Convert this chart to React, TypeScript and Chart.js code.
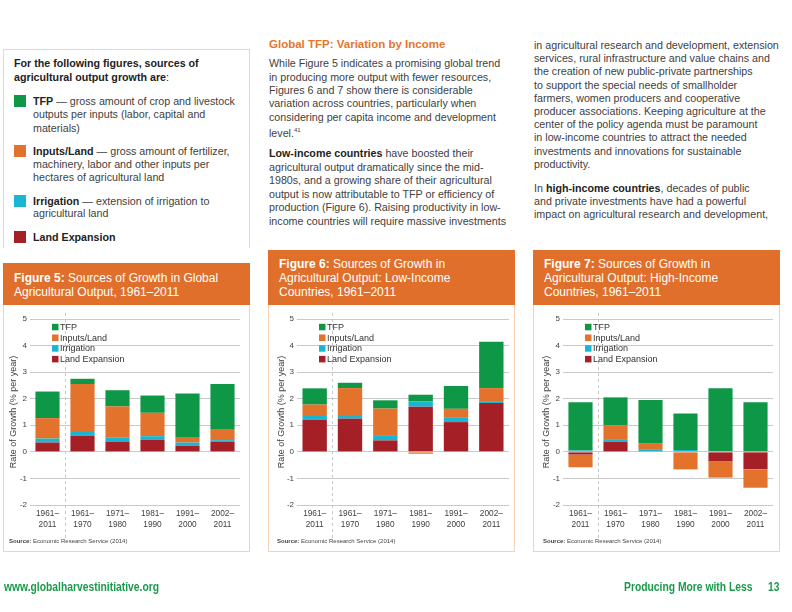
import React, { useEffect, useRef } from "react";
import { Chart, registerables } from "chart.js";
Chart.register(...registerables);

// ---------- data ----------
const categories: string[][] = [
  ["1961–", "2011"],
  ["1961–", "1970"],
  ["1971–", "1980"],
  ["1981–", "1990"],
  ["1991–", "2000"],
  ["2002–", "2011"],
];
const seriesLabels = ["Land Expansion", "Irrigation", "Inputs/Land", "TFP"];
const seriesColors = ["#a51f26", "#19b5d3", "#e2722c", "#0f9748"];
const yTicks = { min: -2, max: 5, step: 1 };

// Figure 5: global
const land5 = [0.35, 0.6, 0.37, 0.45, 0.23, 0.37];
const irr5 = [0.15, 0.15, 0.18, 0.14, 0.12, 0.07];
const inputs5 = [0.77, 1.8, 1.16, 0.88, 0.18, 0.42];
const tfp5 = [1.0, 0.2, 0.61, 0.65, 1.67, 1.69];

// Figure 6: low-income
const land6 = [1.2, 1.25, 0.43, 1.7, 1.12, 1.84];
const irr6 = [0.15, 0.1, 0.17, 0.2, 0.16, 0.04];
const inputs6 = [0.43, 1.05, 1.03, -0.07, 0.34, 0.52];
const tfp6 = [0.61, 0.2, 0.31, 0.25, 0.86, 1.74];

// Figure 7: high-income
const land7 = [-0.1, 0.38, 0.0, -0.02, -0.35, -0.65];
const irr7 = [0.05, 0.1, 0.1, 0.07, 0.03, -0.02];
const inputs7 = [-0.48, 0.52, 0.23, -0.64, -0.62, -0.68];
const tfp7 = [1.82, 1.05, 1.62, 1.37, 2.36, 1.87];

const FONT = "'Liberation Sans', Arial, Helvetica, sans-serif";
const TEXT = "#414141";
const ORANGE = "#e06f2b";
const PANEL_BORDER = "#f7d3b3";
const GREEN = "#1a9a4a";

// ---------- chart plugins ----------
const boxLegend = {
  id: "boxLegend",
  afterDraw(chart: any) {
    const { ctx, chartArea } = chart;
    const ds = chart.data.datasets;
    ctx.save();
    ctx.font = `9px ${FONT}`;
    ctx.textBaseline = "middle";
    ctx.textAlign = "left";
    const x0 = chartArea.left + 22;
    const y0 = chartArea.top + 8;
    const step = 10.7;
    for (let k = 0; k < ds.length; k++) {
      const d = ds[ds.length - 1 - k];
      const y = y0 + k * step;
      ctx.fillStyle = d.backgroundColor;
      ctx.fillRect(x0, y - 3.2, 6.5, 6.5);
      ctx.fillStyle = "#333";
      ctx.fillText(d.label, x0 + 8, y + 0.5);
    }
    ctx.restore();
  },
};

const dashDivider = {
  id: "dashDivider",
  beforeDatasetsDraw(chart: any) {
    const { ctx, chartArea, scales } = chart;
    const x = Math.round(scales.x.getPixelForValue(0.5)) + 0.5;
    ctx.save();
    ctx.strokeStyle = "#c8c8c8";
    ctx.lineWidth = 1;
    ctx.setLineDash([3, 3]);
    ctx.beginPath();
    ctx.moveTo(x, chartArea.top - 6);
    ctx.lineTo(x, chartArea.bottom + 34);
    ctx.stroke();
    ctx.restore();
  },
};

type ChartProps = {
  series: number[][];
  width: number;
  height: number;
  yWidth: number;
  rightPad: number;
  titlePad: number;
};

function GrowthChart({ series, width, height, yWidth, rightPad, titlePad }: ChartProps) {
  const ref = useRef<HTMLCanvasElement | null>(null);
  useEffect(() => {
    if (!ref.current) return;
    const chart = new Chart(ref.current, {
      type: "bar",
      data: {
        labels: categories,
        datasets: seriesLabels.map((label, i) => ({
          label,
          data: series[i],
          backgroundColor: seriesColors[i],
          borderWidth: 0,
          categoryPercentage: 1,
          barPercentage: 0.69,
        })),
      },
      options: {
        animation: false,
        responsive: false,
        maintainAspectRatio: false,
        layout: { padding: { top: 14, bottom: 16, left: 0, right: rightPad } },
        plugins: { legend: { display: false }, tooltip: { enabled: false } },
        scales: {
          x: {
            stacked: true,
            grid: { display: false, drawTicks: false },
            border: { display: false },
            ticks: {
              font: { family: FONT, size: 8.3, lineHeight: 1.35 },
              color: TEXT,
              padding: 3,
              maxRotation: 0,
              autoSkip: false,
            },
            afterFit: (s: any) => {
              s.height = 30;
            },
          },
          y: {
            stacked: true,
            min: yTicks.min,
            max: yTicks.max,
            ticks: {
              stepSize: yTicks.step,
              font: { family: FONT, size: 8 },
              color: TEXT,
              padding: 3,
            },
            grid: { color: "#c9c9c9", drawTicks: false, lineWidth: 1 },
            border: { display: false },
            title: {
              display: true,
              text: "Rate of Growth (% per year)",
              font: { family: FONT, size: 9 },
              color: TEXT,
              padding: { top: titlePad, bottom: 0 },
            },
            afterFit: (s: any) => {
              s.width = yWidth;
            },
          },
        },
      } as any,
      plugins: [boxLegend, dashDivider],
    });
    return () => chart.destroy();
  }, []);
  return (
    <canvas
      ref={ref}
      width={width}
      height={height}
      style={{ position: "absolute", left: 0, top: 0, width, height }}
    />
  );
}

// ---------- text helpers ----------
function L({ x, y, children, style }: { x: number; y: number; children: any; style?: any }) {
  return (
    <div
      style={{
        position: "absolute",
        left: x,
        top: y - 7,
        height: 14,
        lineHeight: "14px",
        whiteSpace: "nowrap",
        ...style,
      }}
    >
      {children}
    </div>
  );
}

type PanelProps = {
  left: number;
  right: number;
  headerTop: number;
  titleX: number;
  titleY: number;
  titleLines: any[];
  series: number[][];
  chartLeft: number;
  chartRight: number;
  titlePad: number;
  sourceX: number;
};

const HEADER_BOTTOM = 305;
const PANEL_BOTTOM = 551;

function Panel(p: PanelProps) {
  const w = p.right - p.left;
  return (
    <>
      <div
        style={{
          position: "absolute",
          left: p.left,
          top: p.headerTop,
          width: w - 2,
          height: PANEL_BOTTOM - p.headerTop - 1,
          border: `1px solid ${PANEL_BORDER}`,
        }}
      />
      <div
        style={{
          position: "absolute",
          left: p.left,
          top: p.headerTop,
          width: w,
          height: HEADER_BOTTOM - p.headerTop,
          background: ORANGE,
        }}
      />
      {p.titleLines.map((ln, i) => (
        <L key={i} x={p.titleX} y={p.titleY + i * 14} style={{ color: "#fff", fontSize: 12 }}>
          {ln}
        </L>
      ))}
      <div
        style={{
          position: "absolute",
          left: p.left,
          top: HEADER_BOTTOM,
          width: w,
          height: PANEL_BOTTOM - HEADER_BOTTOM,
        }}
      >
        <GrowthChart
          series={p.series}
          width={w}
          height={PANEL_BOTTOM - HEADER_BOTTOM}
          yWidth={p.chartLeft - p.left}
          rightPad={p.right - p.chartRight}
          titlePad={p.titlePad}
        />
      </div>
      <L x={p.sourceX} y={541} style={{ fontSize: 6, color: "#444" }}>
        <b>Source:</b> Economic Research Service (2014)
      </L>
    </>
  );
}

function Square({ x, y, color }: { x: number; y: number; color: string }) {
  return (
    <div
      style={{ position: "absolute", left: x, top: y - 6, width: 12, height: 12, background: color }}
    />
  );
}

const footerStyle = {
  fontWeight: "bold",
  fontSize: 12,
  color: GREEN,
  transform: "scaleX(0.86)",
  transformOrigin: "left center",
};

export default function App() {
  useEffect(() => {
    document.body.style.margin = "0";
  }, []);
  const body = { fontSize: 10.7, color: TEXT };
  const rightLines = [
    "in agricultural research and development, extension",
    "services, rural infrastructure and value chains and",
    "the creation of new public-private partnerships",
    "to support the special needs of smallholder",
    "farmers, women producers and cooperative",
    "producer associations. Keeping agriculture at the",
    "center of the policy agenda must be paramount",
    "in low-income countries to attract the needed",
    "investments and innovations for sustainable",
    "productivity.",
  ];
  return (
    <div
      style={{
        position: "fixed",
        left: 0,
        top: 0,
        width: 792,
        height: 612,
        background: "#fff",
        fontFamily: FONT,
        overflow: "hidden",
      }}
    >
      {/* info box */}
      <div
        style={{
          position: "absolute",
          left: 3,
          top: 49,
          width: 245,
          height: 198,
          borderTop: `1px solid ${PANEL_BORDER}`,
          borderLeft: `1px solid ${PANEL_BORDER}`,
          borderRight: `1px solid ${PANEL_BORDER}`,
        }}
      />
      <L x={14} y={63} style={{ ...body, fontWeight: "bold", color: "#222" }}>
        For the following figures, sources of
      </L>
      <L x={14} y={77} style={{ ...body, fontWeight: "bold", color: "#222" }}>
        agricultural output growth are<span style={{ fontWeight: "normal" }}>:</span>
      </L>
      <Square x={14} y={101} color={seriesColors[3]} />
      <L x={33} y={101} style={body}>
        <b style={{ color: "#222" }}>TFP</b> — gross amount of crop and livestock
      </L>
      <L x={33} y={114} style={body}>outputs per inputs (labor, capital and</L>
      <L x={33} y={128} style={body}>materials)</L>
      <Square x={14} y={151} color={seriesColors[2]} />
      <L x={33} y={151} style={body}>
        <b style={{ color: "#222" }}>Inputs/Land</b> — gross amount of fertilizer,
      </L>
      <L x={33} y={164} style={body}>machinery, labor and other inputs per</L>
      <L x={33} y={177} style={body}>hectares of agricultural land</L>
      <Square x={14} y={201} color={seriesColors[1]} />
      <L x={33} y={201} style={body}>
        <b style={{ color: "#222" }}>Irrigation</b> — extension of irrigation to
      </L>
      <L x={33} y={213} style={body}>agricultural land</L>
      <Square x={14} y={237} color={seriesColors[0]} />
      <L x={33} y={237} style={body}>
        <b style={{ color: "#222" }}>Land Expansion</b>
      </L>

      {/* middle column */}
      <L x={269} y={44} style={{ fontSize: 11.5, fontWeight: "bold", color: "#e5762d" }}>
        Global TFP: Variation by Income
      </L>
      <L x={269} y={63} style={body}>While Figure 5 indicates a promising global trend</L>
      <L x={269} y={76.5} style={body}>in producing more output with fewer resources,</L>
      <L x={269} y={90} style={body}>Figures 6 and 7 show there is considerable</L>
      <L x={269} y={103} style={body}>variation across countries, particularly when</L>
      <L x={269} y={116.5} style={body}>considering per capita income and development</L>
      <L x={269} y={129.5} style={body}>
        level.<sup style={{ fontSize: 6 }}>41</sup>
      </L>
      <L x={269} y={153} style={body}>
        <b style={{ color: "#222" }}>Low-income countries</b> have boosted their
      </L>
      <L x={269} y={166.5} style={body}>agricultural output dramatically since the mid-</L>
      <L x={269} y={180} style={body}>1980s, and a growing share of their agricultural</L>
      <L x={269} y={193.5} style={body}>output is now attributable to TFP or efficiency of</L>
      <L x={269} y={207} style={body}>production (Figure 6). Raising productivity in low-</L>
      <L x={269} y={220.5} style={body}>income countries will require massive investments</L>

      {/* right column */}
      {rightLines.map((t, i) => (
        <L key={i} x={534} y={45 + i * 13.2} style={body}>
          {t}
        </L>
      ))}
      <L x={534} y={187.5} style={body}>
        In <b style={{ color: "#222" }}>high-income countries</b>, decades of public
      </L>
      <L x={534} y={200.5} style={body}>and private investments have had a powerful</L>
      <L x={534} y={213.5} style={body}>impact on agricultural research and development,</L>

      {/* figures */}
      <Panel
        left={3}
        right={250}
        headerTop={263}
        titleX={14}
        titleY={278}
        titleLines={[
          <>
            <b>Figure 5:</b> Sources of Growth in Global
          </>,
          <>Agricultural Output, 1961–2011</>,
        ]}
        series={[land5, irr5, inputs5, tfp5]}
        chartLeft={30}
        chartRight={240}
        titlePad={5}
        sourceX={9}
      />
      <Panel
        left={268}
        right={515}
        headerTop={250}
        titleX={279}
        titleY={264}
        titleLines={[
          <>
            <b>Figure 6:</b> Sources of Growth in
          </>,
          <>Agricultural Output: Low-Income</>,
          <>Countries, 1961–2011</>,
        ]}
        series={[land6, irr6, inputs6, tfp6]}
        chartLeft={297}
        chartRight={509}
        titlePad={8}
        sourceX={277}
      />
      <Panel
        left={533}
        right={780}
        headerTop={250}
        titleX={544}
        titleY={264}
        titleLines={[
          <>
            <b>Figure 7:</b> Sources of Growth in
          </>,
          <>Agricultural Output: High-Income</>,
          <>Countries, 1961–2011</>,
        ]}
        series={[land7, irr7, inputs7, tfp7]}
        chartLeft={563}
        chartRight={773}
        titlePad={8}
        sourceX={543}
      />

      {/* footer */}
      <L x={4} y={587} style={footerStyle}>
        www.globalharvestinitiative.org
      </L>
      <L x={624} y={587} style={footerStyle}>
        Producing More with Less
      </L>
      <L x={768} y={587} style={footerStyle}>
        13
      </L>
    </div>
  );
}
